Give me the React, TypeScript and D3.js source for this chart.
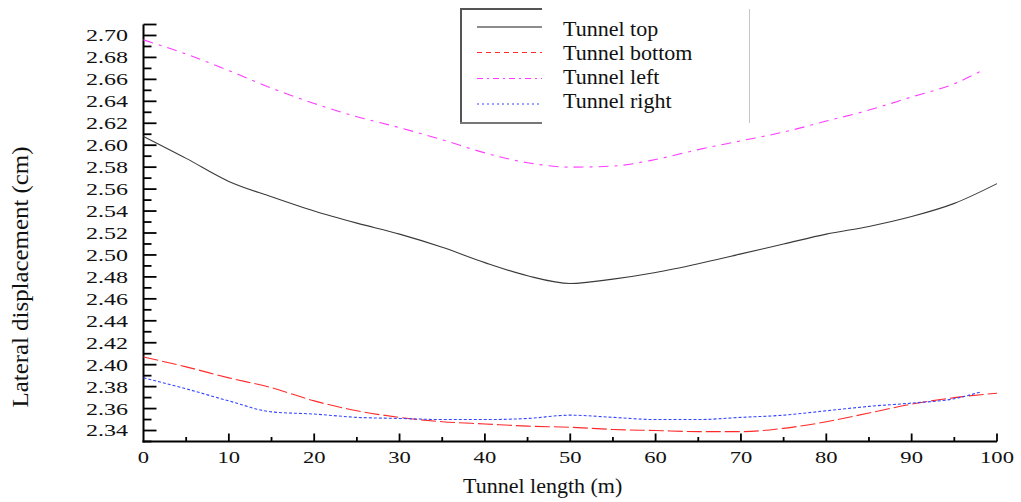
import React from "react";
import * as d3 from "d3";

// Stations along the tunnel (m)
const stations = [0, 5, 10, 15, 20, 25, 30, 35, 40, 45, 50, 55, 60, 65, 70, 75, 80, 85, 90, 95, 100];
const sideStations = [0, 5, 10, 15, 20, 25, 30, 35, 40, 45, 50, 55, 60, 65, 70, 75, 80, 85, 90, 95, 98];

// Lateral displacement (cm) per monitoring position
const tunnelTop = [2.608, 2.588, 2.567, 2.553, 2.540, 2.529, 2.519, 2.507, 2.493, 2.481, 2.474, 2.478, 2.484, 2.492, 2.501, 2.510, 2.519, 2.526, 2.535, 2.547, 2.565];
const tunnelBottom = [2.407, 2.398, 2.388, 2.379, 2.367, 2.358, 2.352, 2.348, 2.346, 2.344, 2.343, 2.341, 2.340, 2.339, 2.339, 2.342, 2.348, 2.356, 2.364, 2.370, 2.374];
const tunnelLeft = [2.696, 2.683, 2.668, 2.652, 2.638, 2.626, 2.616, 2.605, 2.593, 2.584, 2.580, 2.581, 2.587, 2.596, 2.604, 2.612, 2.622, 2.632, 2.644, 2.656, 2.667];
const tunnelRight = [2.388, 2.378, 2.367, 2.357, 2.355, 2.352, 2.351, 2.350, 2.350, 2.351, 2.354, 2.352, 2.350, 2.350, 2.352, 2.354, 2.358, 2.362, 2.365, 2.369, 2.375];

const xTickLabels = ["0", "10", "20", "30", "40", "50", "60", "70", "80", "90", "100"];
const yTickLabels = ["2.34", "2.36", "2.38", "2.40", "2.42", "2.44", "2.46", "2.48", "2.50", "2.52", "2.54", "2.56", "2.58", "2.60", "2.62", "2.64", "2.66", "2.68", "2.70"];

const seriesNames = ["Tunnel top", "Tunnel bottom", "Tunnel left", "Tunnel right"];

const FONT = "'Liberation Serif', 'Times New Roman', serif";

type Series = {
  name: string;
  xs: number[];
  ys: number[];
  color: string;
  dash: string | undefined;
  legendDash: string | undefined;
  width: number;
};

const series: Series[] = [
  { name: seriesNames[0], xs: stations, ys: tunnelTop, color: "#3a3a3a", dash: undefined, legendDash: undefined, width: 1.1 },
  { name: seriesNames[1], xs: stations, ys: tunnelBottom, color: "#ff2a2a", dash: "15 4", legendDash: "5 4", width: 1.1 },
  { name: seriesNames[2], xs: sideStations, ys: tunnelLeft, color: "#ff3cff", dash: "10 6 3 6", legendDash: "6 4 2 4", width: 1.1 },
  { name: seriesNames[3], xs: sideStations, ys: tunnelRight, color: "#3344ff", dash: "3 2", legendDash: "2 3", width: 1.1 },
];

export default function App() {
  const x = d3.scaleLinear().domain([0, 100]).range([143.5, 997]);
  const y = d3.scaleLinear().domain([2.33, 2.71]).range([441.5, 24.5]);

  const line = d3
    .line<[number, number]>()
    .x((d) => x(d[0]))
    .y((d) => y(d[1]))
    .curve(d3.curveMonotoneX);

  const yMinor = d3.range(0, 39).map((i) => 2.33 + i * 0.01);
  const xMinor = d3.range(0, 21).map((i) => i * 5);

  const legendRows = [27, 52.5, 78.5, 104];
  const legendBaselines = [36, 59.8, 83.5, 107.5];

  return (
    <svg
      width={1021}
      height={502}
      style={{ position: "absolute", left: 0, top: 0, background: "#fff" }}
      fontFamily={FONT}
    >
      {/* y axis minor/major ticks pointing inward */}
      {yMinor.map((v, i) => {
        const major = i % 2 === 1 || i === 38;
        return (
          <line
            key={"yt" + i}
            x1={x(0)}
            x2={x(0) + (major ? 13 : 8)}
            y1={y(v)}
            y2={y(v)}
            stroke="#000"
            strokeWidth={1.8}
          />
        );
      })}
      {yTickLabels.map((t) => (
        <text
          key={"yl" + t}
          x={128}
          y={y(+t)}
          dy="0.35em"
          textAnchor="end"
          fontSize={17}
          textLength={42}
          lengthAdjust="spacingAndGlyphs"
          fill="#111"
        >
          {t}
        </text>
      ))}

      {/* x axis ticks pointing inward */}
      {xMinor.map((v, i) => {
        if (v === 0) return null;
        const major = v % 10 === 0;
        return (
          <line
            key={"xt" + i}
            x1={x(v)}
            x2={x(v)}
            y1={y(2.33)}
            y2={y(2.33) - (major ? 8 : 4.5)}
            stroke="#000"
            strokeWidth={1.8}
          />
        );
      })}
      {xTickLabels.map((t) => (
        <text
          key={"xl" + t}
          x={x(+t)}
          y={463}
          textAnchor="middle"
          fontSize={17}
          textLength={t.length * 11.3}
          lengthAdjust="spacingAndGlyphs"
          fill="#111"
        >
          {t}
        </text>
      ))}

      {/* axis lines */}
      <line x1={x(0)} x2={x(0)} y1={y(2.71)} y2={y(2.33) + 1} stroke="#000" strokeWidth={2} />
      <line x1={x(0) - 1} x2={x(100)} y1={y(2.33)} y2={y(2.33)} stroke="#000" strokeWidth={2} />

      {/* data lines */}
      {series.map((s) => (
        <path
          key={s.name}
          d={line(s.xs.map((v, i) => [v, s.ys[i]] as [number, number])) || ""}
          fill="none"
          stroke={s.color}
          strokeWidth={s.width}
          strokeDasharray={s.dash}
        />
      ))}

      {/* axis titles */}
      <text x={463} y={493} fontSize={22} fill="#111">
        Tunnel length (m)
      </text>
      <text
        transform="translate(28,277) rotate(-90)"
        textAnchor="middle"
        fontSize={24}
        textLength={261}
        lengthAdjust="spacingAndGlyphs"
        fill="#111"
      >
        Lateral displacement (cm)
      </text>

      {/* legend */}
      <g>
        <rect x={461} y={9} width={288} height={114} fill="#fff" />
        <line x1={461} x2={461} y1={8} y2={124} stroke="#555" strokeWidth={2} />
        <line x1={460} x2={542} y1={9} y2={9} stroke="#555" strokeWidth={2} />
        <line x1={460} x2={542} y1={123} y2={123} stroke="#777" strokeWidth={2} />
        <line x1={749.5} x2={749.5} y1={9} y2={123} stroke="#c4c4c4" strokeWidth={1} />
        {series.map((s, i) => (
          <g key={"lg" + s.name}>
            <line
              x1={477}
              x2={542}
              y1={legendRows[i]}
              y2={legendRows[i]}
              stroke={i === 0 ? "#666" : s.color}
              strokeWidth={i === 0 ? 1.4 : 1.2}
              strokeDasharray={s.legendDash}
            />
            <text x={563} y={legendBaselines[i]} fontSize={22} fill="#111">
              {s.name}
            </text>
          </g>
        ))}
      </g>
    </svg>
  );
}
